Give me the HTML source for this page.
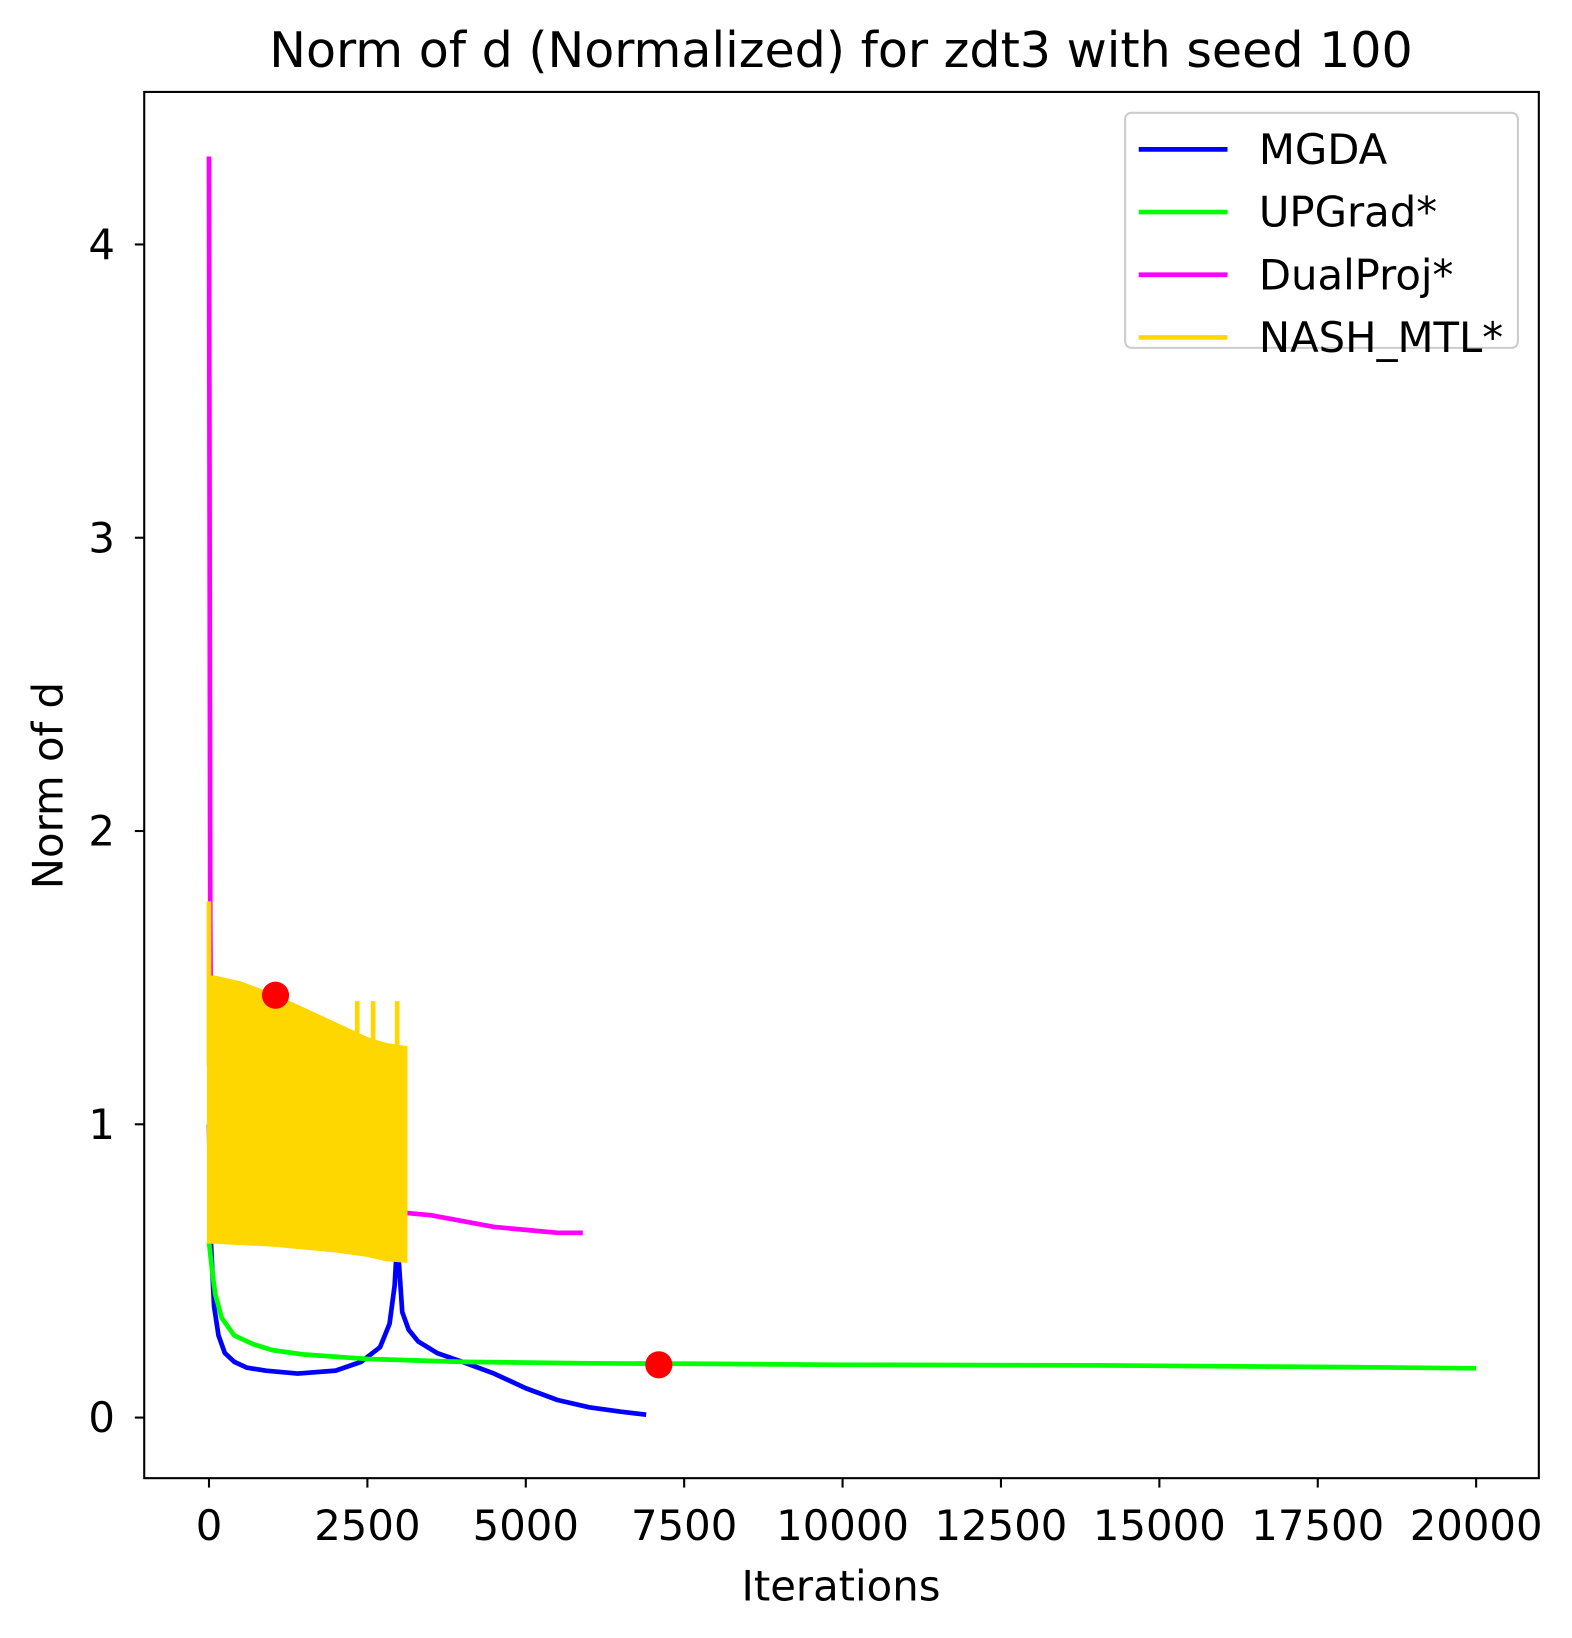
<!DOCTYPE html>
<html><head><meta charset="utf-8"><style>html,body{margin:0;padding:0;background:#fff;width:1572px;height:1638px;overflow:hidden}svg{display:block}svg text{font-family:"DejaVu Sans","Liberation Sans",sans-serif;fill:#000}</style></head>
<body>
<svg width="1572" height="1638" viewBox="0 0 1504.7 1568" xmlns="http://www.w3.org/2000/svg">
<g id="marks"></g>
<rect x="138" y="88" width="1335" height="1327" fill="none" stroke="#000" stroke-width="2"/>
<g id="axes"></g>
<text x="805" y="64" font-size="47" text-anchor="middle">Norm of d (Normalized) for zdt3 with seed 100</text>
<text x="805" y="1532" font-size="40" text-anchor="middle">Iterations</text>
<text transform="translate(60,752) rotate(-90)" font-size="40" text-anchor="middle">Norm of d</text>
<g>
<rect x="1077" y="108" width="376" height="225" rx="6" fill="#fff" fill-opacity="0.8" stroke="#ccc" stroke-width="2"/>
<g id="legend"></g>
</g>
</svg>
<script>
const xTicks=[0,2500,5000,7500,10000,12500,15000,17500,20000];
const yTicks=[0,1,2,3,4];
const mgdaX=[0,30,80,150,250,400,600,900,1400,2000,2400,2700,2850,2930,2970,3000,3050,3150,3300,3600,4000,4500,5000,5500,6000,6500,6900];
const mgdaY=[1.0,0.6,0.38,0.28,0.22,0.19,0.17,0.16,0.15,0.16,0.19,0.24,0.32,0.45,0.6,0.52,0.36,0.3,0.26,0.22,0.19,0.15,0.1,0.06,0.035,0.02,0.01];
const upX=[0,50,100,200,400,700,1000,1500,2500,4000,6000,8000,10000,14000,18000,20000];
const upY=[0.6,0.5,0.42,0.34,0.28,0.25,0.23,0.215,0.2,0.19,0.185,0.183,0.18,0.178,0.172,0.168];
const dpX=[0,10,20,40,3000,3500,4000,4500,5000,5500,5900];
const dpY=[4.3,3.0,1.7,1.0,0.7,0.69,0.67,0.65,0.64,0.63,0.63];
const nashX=[0,100,500,1000,1500,2000,2500,2800,3100];
const nashUpper=[1.5,1.5,1.48,1.44,1.39,1.34,1.29,1.27,1.26];
const nashLower=[0.6,0.6,0.595,0.59,0.58,0.57,0.555,0.54,0.535];
const nashSpikeX=[0,2340,2590,2970];
const nashSpikeY=[1.76,1.42,1.42,1.42];
const dotX=[1050,7100];
const dotY=[1.44,0.18];
const legendLabels=["MGDA","UPGrad*","DualProj*","NASH_MTL*"];
const colors=["#0000ff","#00ff00","#ff00ff","#ffd700"];
const X=v=>200+v*0.06065, Y=v=>1357-v*280.75;
const NS="http://www.w3.org/2000/svg";
const marks=document.getElementById('marks'),axes=document.getElementById('axes'),leg=document.getElementById('legend');
function mk(t,a,p){const e=document.createElementNS(NS,t);for(const k in a)e.setAttribute(k,a[k]);p.appendChild(e);return e;}
function line(xs,ys,c,name){const e=mk('polyline',{points:xs.map((x,i)=>X(x)+','+Y(ys[i])).join(' '),fill:'none',stroke:c,'stroke-width':4.5,'stroke-linejoin':'round'},marks);

}
line(dpX,dpY,colors[2],'dualproj-line');
line(mgdaX,mgdaY,colors[0],'mgda-line');
line(upX,upY,colors[1],'upgrad-line');
const pts=nashX.map((x,i)=>X(x)+','+Y(nashUpper[i])).concat(nashX.slice().reverse().map((x,i)=>X(x)+','+Y(nashLower[nashX.length-1-i])));
const band=mk('polygon',{points:pts.join(' '),fill:colors[3],stroke:colors[3],'stroke-width':4},marks);


nashSpikeX.forEach((x,i)=>{const e=mk('line',{x1:X(x),x2:X(x),y1:Y(nashSpikeY[i]),y2:Y(1.2),stroke:colors[3],'stroke-width':4.5},marks);

});
dotX.forEach((x,i)=>{const e=mk('circle',{cx:X(x),cy:Y(dotY[i]),r:13,fill:'#ff0000'},marks);

});
xTicks.forEach(t=>{mk('line',{x1:X(t),x2:X(t),y1:1415,y2:1424,stroke:'#000','stroke-width':2},axes);
const e=mk('text',{x:X(t),y:1474,'font-size':40,'text-anchor':'middle'},axes);e.textContent=t;

});
yTicks.forEach(t=>{mk('line',{x1:129,x2:138,y1:Y(t),y2:Y(t),stroke:'#000','stroke-width':2},axes);
const e=mk('text',{x:110,y:Y(t)+14,'font-size':40,'text-anchor':'end'},axes);e.textContent=t;

});
legendLabels.forEach((l,i)=>{const y=143+i*60;
mk('line',{x1:1090,x2:1175,y1:y,y2:y,stroke:colors[i],'stroke-width':4.5},leg);
const e=mk('text',{x:1205,y:y+14,'font-size':40},leg);e.textContent=l;

});
</script>
</body></html>
